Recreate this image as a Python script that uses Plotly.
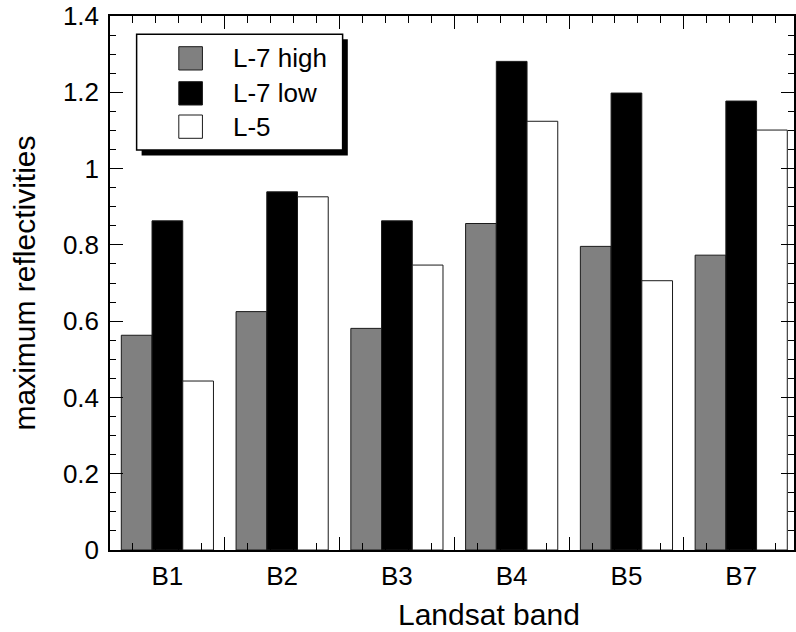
import plotly.graph_objects as go

# ---- data ----
bands = ["B1", "B2", "B3", "B4", "B5", "B7"]
l7_high = [0.563, 0.625, 0.581, 0.856, 0.796, 0.773]
l7_low = [0.863, 0.939, 0.863, 1.281, 1.198, 1.177]
l5 = [0.443, 0.926, 0.747, 1.124, 0.706, 1.101]
series_names = ["L-7 high", "L-7 low", "L-5"]
y_ticks = [0, 0.2, 0.4, 0.6, 0.8, 1.0, 1.2, 1.4]

colors = ["#808080", "#000000", "#ffffff"]
FONT = "Liberation Sans, Arial, Helvetica, sans-serif"

W, H = 796, 632
ML, MR, MT, MB = 110, 0, 16, 82
PW, PH = W - ML - MR, H - MT - MB


def px(xp):
    return (xp - ML) / PW


def py(yp):
    return (H - MB - yp) / PH


fig = go.Figure()
for name, vals, col in zip(series_names, [l7_high, l7_low, l5], colors):
    fig.add_trace(go.Bar(
        x=bands, y=vals, name=name, showlegend=False,
        marker=dict(color=col, line=dict(color="#1a1a1a", width=1)),
    ))

# invisible helper trace for the tick-only overlay axis
fig.add_trace(go.Scatter(x=[0], y=[0], xaxis="x2", mode="markers",
                         marker=dict(opacity=0), showlegend=False, hoverinfo="skip"))

XR = [-0.5, 5.46]
fig.update_layout(
    width=W, height=H,
    margin=dict(l=ML, r=MR, t=MT, b=MB),
    paper_bgcolor="white", plot_bgcolor="white",
    font=dict(family=FONT, color="black", size=26),
    barmode="group", bargap=0.197, bargroupgap=0,
    xaxis=dict(
        type="category", range=XR, showgrid=False, zeroline=False,
        showline=True, linecolor="black", linewidth=1.5, mirror=True,
        ticks="", tickfont=dict(size=26), ticklabelstandoff=2,
    ),
    xaxis2=dict(
        overlaying="x", anchor="y", side="bottom", range=XR,
        showgrid=False, zeroline=False, showline=False, showticklabels=False,
        ticks="inside", tick0=0.5, dtick=1, ticklen=13, tickwidth=1.2,
        tickcolor="black", mirror="ticks",
        minor=dict(ticks="inside", dtick=0.2, tick0=0.5, ticklen=7,
                   tickwidth=1, tickcolor="black", showgrid=False),
    ),
    yaxis=dict(
        range=[0, 1.4], tickvals=y_ticks, showgrid=False, zeroline=False,
        showline=True, linecolor="black", linewidth=1.5, mirror="ticks",
        ticks="inside", ticklen=13, tickwidth=1.2, tickcolor="black",
        tickfont=dict(size=26), ticklabelstandoff=4,
        minor=dict(ticks="inside", dtick=0.05, ticklen=6, tickwidth=1,
                   tickcolor="black", showgrid=False),
        title=dict(text="maximum reflectivities", font=dict(size=30), standoff=18),
    ),
)

# x-axis title
fig.add_annotation(text="Landsat band", xref="paper", yref="paper",
                   x=px(490), y=py(614), showarrow=False,
                   font=dict(size=30, family=FONT, color="black"),
                   xanchor="center", yanchor="middle")

# legend box (manual, with drop shadow)
shapes = [
    dict(type="rect", xref="paper", yref="paper",
         x0=px(141.7), x1=px(348.5), y0=py(155.5), y1=py(39.3),
         fillcolor="black", line=dict(width=0), layer="above"),
    dict(type="rect", xref="paper", yref="paper",
         x0=px(136.7), x1=px(343.3), y0=py(150), y1=py(34.3),
         fillcolor="white", line=dict(color="black", width=1.5), layer="above"),
]
rows = [(46.7, 70), (81.7, 105), (115, 138.3)]
for (t, b), col, name in zip(rows, colors, series_names):
    shapes.append(dict(type="rect", xref="paper", yref="paper",
                       x0=px(179), x1=px(202.7), y0=py(b), y1=py(t),
                       fillcolor=col, line=dict(color="#1a1a1a", width=1),
                       layer="above"))
    fig.add_annotation(text=name, xref="paper", yref="paper",
                       x=px(231), y=py((t + b) / 2), showarrow=False,
                       xanchor="left", yanchor="middle",
                       font=dict(size=26, family=FONT, color="black"))
fig.update_layout(shapes=shapes)

fig.write_html("out.html")
